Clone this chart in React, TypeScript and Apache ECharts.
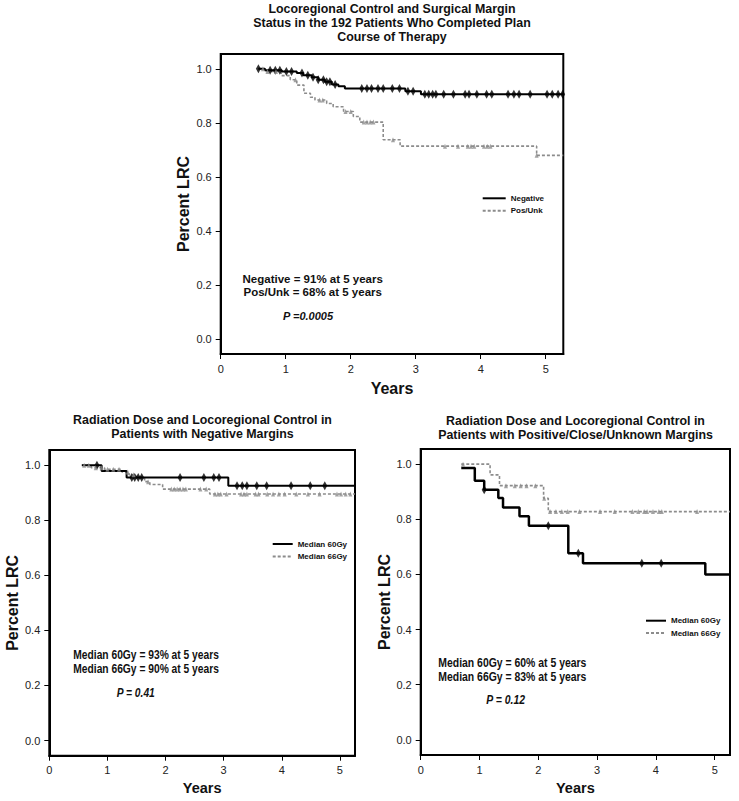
import React, { useEffect, useRef } from "react";
import * as echarts from "echarts";

// ---------- data ----------
const yTickValues = [0, 0.2, 0.4, 0.6, 0.8, 1.0];
const xTickValues = [0, 1, 2, 3, 4, 5];

// Top panel: surgical margin
const negTimes = [0.58, 0.68, 0.94, 1.17, 1.27, 1.4, 1.5, 1.6, 1.71, 1.81, 1.91, 2.84, 3.08];
const negSurv = [1.0, 0.995, 0.99, 0.985, 0.976, 0.969, 0.96, 0.952, 0.942, 0.936, 0.927, 0.917, 0.906];
const negCensor = [0.58, 0.76, 0.84, 0.91, 1.01, 1.09, 1.25, 1.34, 1.42, 1.5, 1.58, 1.63, 1.68, 1.76, 2.17, 2.25, 2.32, 2.42, 2.5, 2.64, 2.75, 2.88, 2.96, 3.14, 3.2, 3.26, 3.31, 3.43, 3.58, 3.76, 3.82, 3.94, 4.09, 4.17, 4.42, 4.51, 4.59, 4.76, 5.02, 5.1, 5.19, 5.26];
const posTimes = [0.58, 0.68, 0.93, 1.07, 1.17, 1.28, 1.38, 1.45, 1.63, 1.73, 1.89, 2.04, 2.14, 2.5, 2.76, 4.86];
const posSurv = [1.0, 0.99, 0.975, 0.96, 0.94, 0.91, 0.895, 0.885, 0.872, 0.86, 0.842, 0.824, 0.803, 0.738, 0.714, 0.68];
const posCensor = [0.65, 0.72, 0.85, 1.15, 1.52, 1.57, 1.92, 2.0, 2.2, 2.25, 2.3, 2.35, 2.65, 3.45, 3.65, 3.8, 3.85, 3.9, 4.05, 4.1, 4.15, 4.86];

// Bottom-left: negative margins
const bl60Times = [0.56, 0.9, 1.33, 3.08];
const bl60Surv = [1.0, 0.979, 0.955, 0.925];
const bl60Censor = [0.82, 1.42, 1.47, 1.53, 1.59, 2.25, 2.66, 2.83, 2.92, 3.23, 3.32, 3.4, 3.57, 3.74, 4.16, 4.49, 4.74];
const bl66Times = [0.56, 0.72, 0.95, 1.25, 1.37, 1.5, 1.64, 1.73, 1.95, 2.76];
const bl66Surv = [1.0, 0.991, 0.985, 0.975, 0.965, 0.955, 0.94, 0.93, 0.913, 0.895];
const bl66Censor = [0.6, 0.68, 0.8, 0.9, 1.0, 1.1, 1.2, 1.35, 1.45, 1.7, 2.1, 2.15, 2.2, 2.25, 2.3, 2.35, 2.6, 2.7, 2.85, 2.9, 2.95, 3.05, 3.3, 3.35, 3.4, 3.55, 3.6, 3.75, 3.85, 3.95, 4.05, 4.25, 4.45, 4.65, 4.95, 5.02, 5.1, 5.18];

// Bottom-right: positive/close/unknown margins
const br60Times = [0.69, 0.92, 1.08, 1.32, 1.4, 1.68, 1.84, 2.51, 2.76, 4.84];
const br60Surv = [0.986, 0.94, 0.907, 0.877, 0.843, 0.811, 0.777, 0.677, 0.641, 0.6];
const br60Censor = [1.08, 2.17, 2.68, 3.76, 4.09];
const br66Times = [0.69, 1.18, 1.34, 2.09, 2.17];
const br66Surv = [1.0, 0.961, 0.922, 0.876, 0.828];
const br66Censor = [0.72, 1.45, 1.6, 1.7, 1.8, 1.95, 2.1, 2.2, 2.3, 2.4, 2.5, 2.7, 3.05, 3.3, 3.6, 3.7, 3.8, 3.85, 3.95, 4.05, 4.1, 4.7];

const FONT = '"Liberation Sans", Arial, sans-serif';
const GRAY = "#8c8c8c";

function survAt(times: number[], surv: number[], t: number) {
  let v = surv[0];
  for (let i = 0; i < times.length; i++) if (times[i] <= t + 1e-9) v = surv[i];
  return v;
}
function stepData(times: number[], surv: number[], xEnd: number) {
  const d = times.map((t, i) => [t, surv[i]]);
  d.push([xEnd, surv[surv.length - 1]]);
  return d;
}
function censorData(times: number[], surv: number[], cens: number[]) {
  return cens.map((t) => [t, survAt(times, surv, t)]);
}

export default function App() {
  const ref = useRef<HTMLDivElement>(null);
  useEffect(() => {
    if (!ref.current) return;
    const chart = echarts.init(ref.current, undefined, { renderer: "svg" });

    const panels = [
      { left: 220.7, top: 54, width: 342.6, height: 300, xMax: 5.27, yGap: 29, xGap: 26, nameSize: 16 },
      { left: 49.3, top: 450, width: 305.7, height: 305.7, xMax: 5.26, yGap: 29, xGap: 25, nameSize: 14.5 },
      { left: 420.7, top: 449, width: 309.3, height: 306, xMax: 5.26, yGap: 28, xGap: 25, nameSize: 14.5 },
    ];

    const grid = panels.map((p) => ({
      left: p.left,
      top: p.top,
      width: p.width,
      height: p.height,
      show: true,
      borderColor: "#000",
      borderWidth: 2,
      backgroundColor: "transparent",
    }));
    const xAxis = panels.map((p, i) => ({
      type: "value",
      gridIndex: i,
      min: 0,
      max: p.xMax,
      name: "Years",
      nameLocation: "middle",
      nameGap: p.xGap,
      nameTextStyle: { fontSize: p.nameSize, fontWeight: "bold", fontFamily: FONT, color: "#111" },
      axisLine: { onZero: false, lineStyle: { color: "#000", width: 2 } },
      axisTick: { show: true, length: 5, customValues: xTickValues, lineStyle: { color: "#000", width: 1 } },
      axisLabel: { customValues: xTickValues, margin: 9, fontSize: 11, fontFamily: FONT, color: "#222", formatter: (v: number) => String(v) },
      splitLine: { show: false },
    }));
    const yAxis = panels.map((p, i) => ({
      type: "value",
      gridIndex: i,
      min: -0.055,
      max: 1.055,
      name: "Percent LRC",
      nameLocation: "middle",
      nameRotate: 90,
      nameGap: p.yGap,
      nameTextStyle: { fontSize: p.nameSize + (i === 0 ? 0 : 1.5), fontWeight: "bold", fontFamily: FONT, color: "#111" },
      axisLine: { onZero: false, lineStyle: { color: "#000", width: 2 } },
      axisTick: { show: true, length: 5, customValues: yTickValues, lineStyle: { color: "#000", width: 1 } },
      axisLabel: { customValues: yTickValues, margin: 9, fontSize: 11, fontFamily: FONT, color: "#222", formatter: (v: number) => v.toFixed(1) },
      splitLine: { show: false },
    }));

    const solid = (w: number) => ({ color: "#000", width: w, type: "solid" });
    const dashed = { color: GRAY, width: 1.6, type: [3, 2] };
    const blackMark = { symbol: "diamond", symbolSize: [5, 9], itemStyle: { color: "#000" } };
    const grayMark = { symbol: "triangle", symbolSize: [4, 5], itemStyle: { color: GRAY } };

    const stepSeries = (name: string, idx: number, times: number[], surv: number[], xEnd: number, ls: any) => ({
      name,
      type: "line",
      step: "end",
      xAxisIndex: idx,
      yAxisIndex: idx,
      symbol: "none",
      data: stepData(times, surv, xEnd),
      lineStyle: ls,
      itemStyle: { color: ls.color },
      z: ls.color === "#000" ? 3 : 2,
    });
    const markSeries = (name: string, idx: number, times: number[], surv: number[], cens: number[], m: any) => ({
      name,
      type: "scatter",
      xAxisIndex: idx,
      yAxisIndex: idx,
      data: censorData(times, surv, cens),
      ...m,
      z: 4,
    });

    const series = [
      stepSeries("Negative", 0, negTimes, negSurv, 5.27, solid(2)),
      stepSeries("Pos/Unk", 0, posTimes, posSurv, 5.27, dashed),
      markSeries("Negative censored", 0, negTimes, negSurv, negCensor, blackMark),
      markSeries("Pos/Unk censored", 0, posTimes, posSurv, posCensor, grayMark),
      stepSeries("Median 60Gy", 1, bl60Times, bl60Surv, 5.26, solid(2)),
      stepSeries("Median 66Gy", 1, bl66Times, bl66Surv, 5.26, dashed),
      markSeries("60Gy censored (neg)", 1, bl60Times, bl60Surv, bl60Censor, blackMark),
      markSeries("66Gy censored (neg)", 1, bl66Times, bl66Surv, bl66Censor, grayMark),
      stepSeries("Median 60Gy", 2, br60Times, br60Surv, 5.26, solid(2.5)),
      stepSeries("Median 66Gy", 2, br66Times, br66Surv, 5.26, dashed),
      markSeries("60Gy censored (pos)", 2, br60Times, br60Surv, br60Censor, blackMark),
      markSeries("66Gy censored (pos)", 2, br66Times, br66Surv, br66Censor, grayMark),
    ];

    const legendBase = {
      orient: "vertical",
      itemHeight: 8,
      itemGap: 4.4,
      padding: 0,
      selectedMode: false,
      itemStyle: { opacity: 0 },
      textStyle: { fontSize: 8, fontWeight: "bold", fontFamily: FONT, color: "#111" },
    };
    const legend = [
      { ...legendBase, itemWidth: 23, data: ["Negative", "Pos/Unk"], left: 481.7, top: 194.3 },
      { ...legendBase, itemWidth: 20, data: ["Median 60Gy", "Median 66Gy"], left: 271.7, top: 540 },
      { ...legendBase, itemWidth: 20, data: ["Median 60Gy", "Median 66Gy"], left: 645, top: 616.7 },
    ];

    const titleStyle = { fontSize: 12.4, fontWeight: "bold", fontFamily: FONT, color: "#111", lineHeight: 14.3 };
    const title = [
      { text: "Locoregional Control and Surgical Margin\nStatus in the 192 Patients Who Completed Plan\nCourse of Therapy", left: 392, top: 1.5, padding: 0, textAlign: "center", textStyle: titleStyle },
      { text: "Radiation Dose and Locoregional Control in\nPatients with Negative Margins", left: 202.5, top: 413, padding: 0, textAlign: "center", textStyle: titleStyle },
      { text: "Radiation Dose and Locoregional Control in\nPatients with Positive/Close/Unknown Margins", left: 575.5, top: 413.5, padding: 0, textAlign: "center", textStyle: titleStyle },
    ];

    const note = (text: string, x: number, y: number, size: number, align: string, sx: number, italic = false) => ({
      type: "text",
      x,
      y,
      scaleX: sx,
      silent: true,
      style: {
        text,
        fontSize: size,
        fontWeight: "bold",
        fontStyle: italic ? "italic" : "normal",
        fontFamily: FONT,
        fill: "#111",
        align,
        verticalAlign: "middle",
      },
    });
    const graphic = [
      note("Negative = 91% at 5 years", 312.7, 279, 11.5, "center", 1),
      note("Pos/Unk = 68% at 5 years", 312.7, 291.7, 11.5, "center", 1),
      note("P =0.0005", 308, 315.7, 11, "center", 1, true),
      note("Median 60Gy = 93% at 5 years", 73.3, 654.3, 12, "left", 0.855),
      note("Median 66Gy = 90% at 5 years", 73.3, 669, 12, "left", 0.855),
      note("P = 0.41", 116.7, 692.3, 12, "left", 0.855, true),
      note("Median 60Gy = 60% at 5 years", 438.3, 662.7, 12, "left", 0.87),
      note("Median 66Gy = 83% at 5 years", 438.3, 676.7, 12, "left", 0.87),
      note("P = 0.12", 486.3, 700, 12, "left", 0.87, true),
    ];

    chart.setOption({
      animation: false,
      backgroundColor: "#fff",
      title,
      legend,
      grid,
      xAxis,
      yAxis,
      series,
      graphic,
    });
    return () => chart.dispose();
  }, []);
  return <div ref={ref} style={{ position: "fixed", left: 0, top: 0, width: 739, height: 801 }} />;
}
